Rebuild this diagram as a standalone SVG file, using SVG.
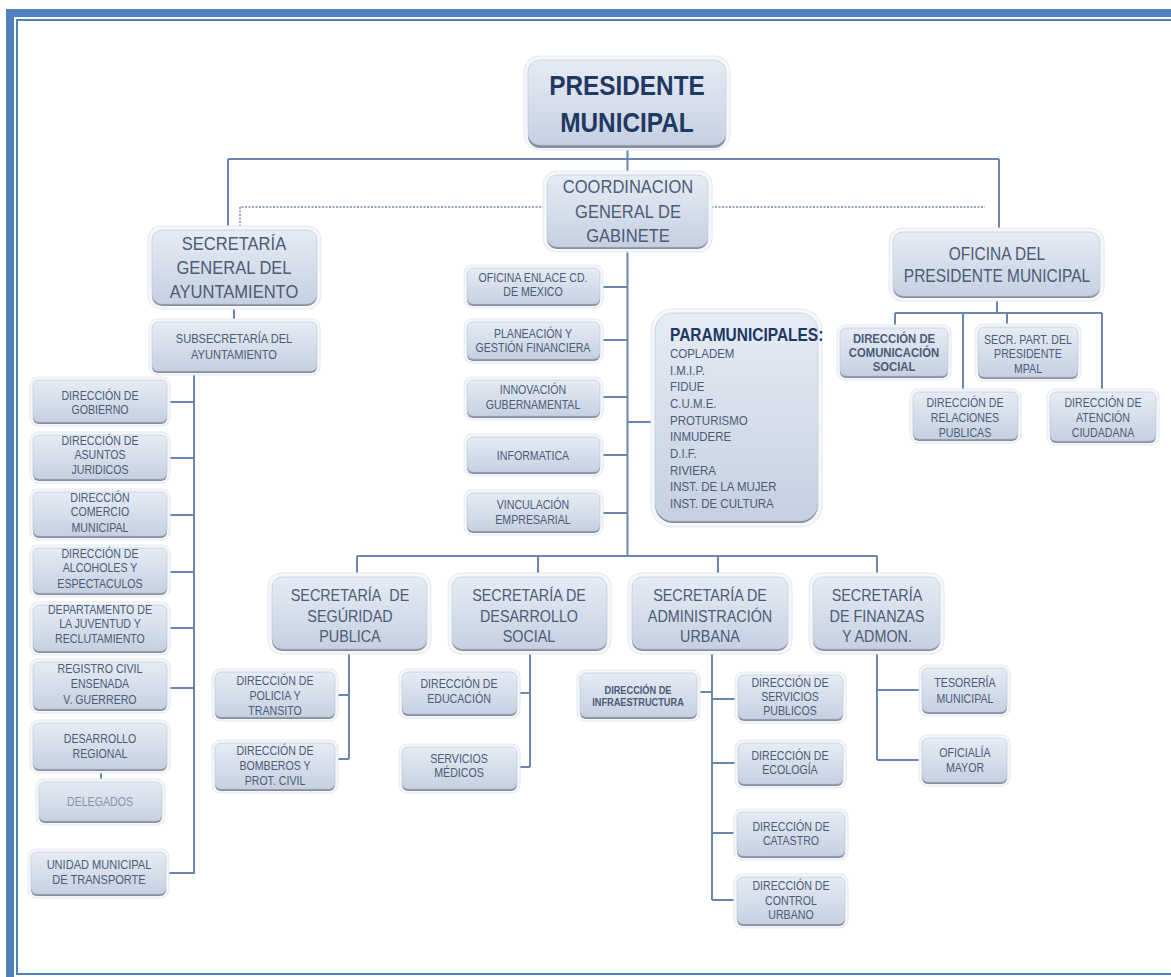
<svg xmlns="http://www.w3.org/2000/svg" width="1171" height="977" viewBox="0 0 1171 977">
<defs>
<linearGradient id="gr" x1="0" y1="0" x2="0" y2="1">
<stop offset="0" stop-color="#E6ECF5"/>
<stop offset="1" stop-color="#C6D0E1"/>
</linearGradient>
<style>
.glow{fill:#F5F7FA;stroke:#E4E8EE;stroke-width:1}
.sh{fill:#858FA0}
.bx{fill:url(#gr);stroke:#B9C3D3;stroke-width:0.6}
text{font-family:"Liberation Sans",Arial,sans-serif;text-anchor:middle;fill:#4C5B76}
.big{font-size:19px}
.mid{font-size:16.5px}
.sm{font-size:12.2px}
.smb{font-size:13px;font-weight:bold}
.pl{text-anchor:start;font-size:13.2px}
.ln{fill:none;stroke:#6A86B0;stroke-width:2}
.ds{fill:none;stroke:#9AA6B8;stroke-width:2;stroke-dasharray:2 1.5}
.frm{fill:none;stroke:#4F81BD}
</style>
</defs>
<rect width="1171" height="977" fill="#FFFFFF"/>
<rect class="frm" x="10" y="13" width="1200" height="1000" stroke-width="8"/>
<rect class="frm" x="17" y="20" width="1200" height="954" stroke-width="2"/>

<g id="connectors">
<path class="ln" d="M627.5 146V556"/>
<path class="ln" d="M228 159H999M228 159V230M999 159V232"/>
<path class="ds" d="M240 230V207H547M708 207H985"/>
<path class="ln" d="M234 305V322"/>
<path class="ln" d="M194 372V873H166M167 402H194M167 458H194M167 515H194M167 572H194M167 628H194M167 688H194"/>
<path class="ln" d="M101 770V782"/>
<path class="ln" d="M600 287H628M600 340H628M600 397H628M600 455H628M600 513H628M628 422H655"/>
<path class="ln" d="M357 556H877M357 556V577M538 556V577M718 556V577M877 556V577"/>
<path class="ln" d="M349 650V759M335 695H349M335 759H349"/>
<path class="ln" d="M530 650V767M517 693H530M517 767H530"/>
<path class="ln" d="M712 650V900M697 692H712M712 699H738M712 763H738M712 833H737M712 900H737"/>
<path class="ln" d="M877 650V760M877 690H922M877 760H922"/>
<path class="ln" d="M997 297V313M895 313H1102M895 313V328M963 313V392M1007 313V327M1102 313V392"/>
</g>

<g id="n-presidente">
<rect class="glow" x="524" y="56" width="206" height="94" rx="15"/>
<rect class="sh" x="528" y="62" width="198" height="86" rx="12"/>
<rect class="bx" x="528" y="60" width="198" height="85" rx="12"/>
<g transform="matrix(0.87 0 0 1 81.51 0)">
<text x="627" y="95" style="font-size:28px;font-weight:bold;fill:#1F3864">PRESIDENTE</text>
<text x="627" y="132" style="font-size:28px;font-weight:bold;fill:#1F3864">MUNICIPAL</text>
</g>
</g>

<g id="n-coordinacion">
<rect class="glow" x="543" y="171" width="169" height="81" rx="13"/>
<rect class="sh" x="547" y="177" width="161" height="72" rx="10"/>
<rect class="bx" x="547" y="175" width="161" height="72" rx="10"/>
<g transform="matrix(0.87 0 0 1 81.64 0)">
<text class="big" x="628" y="193">COORDINACION</text>
<text class="big" x="628" y="218">GENERAL DE</text>
<text class="big" x="628" y="242">GABINETE</text>
</g>
</g>

<g id="n-secgeneral">
<rect class="glow" x="148" y="226" width="173" height="83" rx="13"/>
<rect class="sh" x="152" y="232" width="165" height="74" rx="10"/>
<rect class="bx" x="152" y="230" width="165" height="74" rx="10"/>
<g transform="matrix(0.87 0 0 1 30.42 0)">
<text class="big" x="234" y="250">SECRETARÍA</text>
<text class="big" x="234" y="274">GENERAL DEL</text>
<text class="big" x="234" y="298">AYUNTAMIENTO</text>
</g>
</g>

<g id="n-oficina">
<rect class="glow" x="889" y="228" width="215" height="73" rx="13"/>
<rect class="sh" x="893" y="234" width="207" height="64" rx="10"/>
<rect class="bx" x="893" y="232" width="207" height="64" rx="10"/>
<g transform="matrix(0.87 0 0 1 129.61 0)">
<text x="997" y="260" style="font-size:17.8px">OFICINA DEL</text>
<text x="997" y="282" style="font-size:17.8px">PRESIDENTE MUNICIPAL</text>
</g>
</g>

<g id="n-subsecretaria">
<rect class="glow" x="149" y="319" width="171" height="56" rx="8"/>
<rect class="sh" x="152" y="324" width="165" height="49" rx="6"/>
<rect class="bx" x="152" y="322" width="165" height="49" rx="6"/>
<g transform="matrix(0.87 0 0 1 30.42 0)">
<text class="sm" x="234" y="343" style="font-size:12.7px">SUBSECRETARÍA DEL</text>
<text class="sm" x="234" y="359" style="font-size:12.7px">AYUNTAMIENTO</text>
</g>
</g>

<g id="n-gobierno">
<rect class="glow" x="30" y="377" width="140" height="49" rx="8"/>
<rect class="sh" x="33" y="382" width="134" height="42" rx="6"/>
<rect class="bx" x="33" y="380" width="134" height="42" rx="6"/>
<g transform="matrix(0.87 0 0 1 13 0)">
<text class="sm" x="100" y="400">DIRECCIÓN DE</text>
<text class="sm" x="100" y="414">GOBIERNO</text>
</g>
</g>

<g id="n-juridicos">
<rect class="glow" x="30" y="432" width="140" height="51" rx="8"/>
<rect class="sh" x="33" y="437" width="134" height="44" rx="6"/>
<rect class="bx" x="33" y="435" width="134" height="44" rx="6"/>
<g transform="matrix(0.87 0 0 1 13 0)">
<text class="sm" x="100" y="445">DIRECCIÓN DE</text>
<text class="sm" x="100" y="459">ASUNTOS</text>
<text class="sm" x="100" y="474">JURIDICOS</text>
</g>
</g>

<g id="n-comercio">
<rect class="glow" x="30" y="489" width="140" height="51" rx="8"/>
<rect class="sh" x="33" y="494" width="134" height="44" rx="6"/>
<rect class="bx" x="33" y="492" width="134" height="44" rx="6"/>
<g transform="matrix(0.87 0 0 1 13 0)">
<text class="sm" x="100" y="502">DIRECCIÓN</text>
<text class="sm" x="100" y="516">COMERCIO</text>
<text class="sm" x="100" y="532">MUNICIPAL</text>
</g>
</g>

<g id="n-alcoholes">
<rect class="glow" x="30" y="545" width="140" height="52" rx="8"/>
<rect class="sh" x="33" y="550" width="134" height="45" rx="6"/>
<rect class="bx" x="33" y="548" width="134" height="45" rx="6"/>
<g transform="matrix(0.87 0 0 1 13 0)">
<text class="sm" x="100" y="558">DIRECCIÓN DE</text>
<text class="sm" x="100" y="572">ALCOHOLES Y</text>
<text class="sm" x="100" y="588">ESPECTACULOS</text>
</g>
</g>

<g id="n-juventud">
<rect class="glow" x="30" y="602" width="140" height="53" rx="8"/>
<rect class="sh" x="33" y="607" width="134" height="46" rx="6"/>
<rect class="bx" x="33" y="605" width="134" height="46" rx="6"/>
<g transform="matrix(0.87 0 0 1 13 0)">
<text class="sm" x="100" y="614">DEPARTAMENTO DE</text>
<text class="sm" x="100" y="628">LA JUVENTUD Y</text>
<text class="sm" x="100" y="643">RECLUTAMIENTO</text>
</g>
</g>

<g id="n-registro">
<rect class="glow" x="30" y="659" width="140" height="54" rx="8"/>
<rect class="sh" x="33" y="664" width="134" height="47" rx="6"/>
<rect class="bx" x="33" y="662" width="134" height="47" rx="6"/>
<g transform="matrix(0.87 0 0 1 13 0)">
<text class="sm" x="100" y="673">REGISTRO CIVIL</text>
<text class="sm" x="100" y="688">ENSENADA</text>
<text class="sm" x="100" y="704">V. GUERRERO</text>
</g>
</g>

<g id="n-desarrollo-regional">
<rect class="glow" x="30" y="720" width="140" height="53" rx="8"/>
<rect class="sh" x="33" y="725" width="134" height="46" rx="6"/>
<rect class="bx" x="33" y="723" width="134" height="46" rx="6"/>
<g transform="matrix(0.87 0 0 1 13 0)">
<text class="sm" x="100" y="743">DESARROLLO</text>
<text class="sm" x="100" y="758">REGIONAL</text>
</g>
</g>

<g id="n-delegados">
<rect class="glow" x="36" y="779" width="129" height="46" rx="8"/>
<rect class="sh" x="39" y="784" width="123" height="39" rx="6"/>
<rect class="bx" x="39" y="782" width="123" height="39" rx="6"/>
<g transform="matrix(0.87 0 0 1 13 0)">
<text class="sm" x="100" y="806" style="fill:#8A94A6">DELEGADOS</text>
</g>
</g>

<g id="n-transporte">
<rect class="glow" x="28" y="849" width="141" height="49" rx="8"/>
<rect class="sh" x="31" y="854" width="135" height="42" rx="6"/>
<rect class="bx" x="31" y="852" width="135" height="42" rx="6"/>
<g transform="matrix(0.87 0 0 1 12.87 0)">
<text class="sm" x="99" y="869" style="font-size:12.7px">UNIDAD MUNICIPAL</text>
<text class="sm" x="99" y="884" style="font-size:12.7px">DE TRANSPORTE</text>
</g>
</g>

<g id="n-enlace">
<rect class="glow" x="464" y="265" width="139" height="43" rx="8"/>
<rect class="sh" x="467" y="270" width="133" height="36" rx="6"/>
<rect class="bx" x="467" y="268" width="133" height="36" rx="6"/>
<g transform="matrix(0.87 0 0 1 69.29 0)">
<text class="sm" x="533" y="282">OFICINA ENLACE CD.</text>
<text class="sm" x="533" y="296">DE MEXICO</text>
</g>
</g>

<g id="n-planeacion">
<rect class="glow" x="464" y="319" width="139" height="44" rx="8"/>
<rect class="sh" x="467" y="324" width="133" height="37" rx="6"/>
<rect class="bx" x="467" y="322" width="133" height="37" rx="6"/>
<g transform="matrix(0.87 0 0 1 69.29 0)">
<text class="sm" x="533" y="338">PLANEACIÓN Y</text>
<text class="sm" x="533" y="352">GESTIÓN FINANCIERA</text>
</g>
</g>

<g id="n-innovacion">
<rect class="glow" x="464" y="377" width="139" height="43" rx="8"/>
<rect class="sh" x="467" y="382" width="133" height="36" rx="6"/>
<rect class="bx" x="467" y="380" width="133" height="36" rx="6"/>
<g transform="matrix(0.87 0 0 1 69.29 0)">
<text class="sm" x="533" y="394">INNOVACIÓN</text>
<text class="sm" x="533" y="409">GUBERNAMENTAL</text>
</g>
</g>

<g id="n-informatica">
<rect class="glow" x="464" y="434" width="139" height="42" rx="8"/>
<rect class="sh" x="467" y="439" width="133" height="35" rx="6"/>
<rect class="bx" x="467" y="437" width="133" height="35" rx="6"/>
<g transform="matrix(0.87 0 0 1 69.29 0)">
<text class="sm" x="533" y="460">INFORMATICA</text>
</g>
</g>

<g id="n-vinculacion">
<rect class="glow" x="464" y="490" width="139" height="45" rx="8"/>
<rect class="sh" x="467" y="495" width="133" height="38" rx="6"/>
<rect class="bx" x="467" y="493" width="133" height="38" rx="6"/>
<g transform="matrix(0.87 0 0 1 69.29 0)">
<text class="sm" x="533" y="509">VINCULACIÓN</text>
<text class="sm" x="533" y="524">EMPRESARIAL</text>
</g>
</g>

<g id="n-paramunicipales">
<rect class="glow" x="651" y="309" width="171" height="218" rx="21"/>
<rect class="sh" x="655" y="315" width="163" height="208" rx="18"/>
<rect class="bx" x="655" y="313" width="163" height="208" rx="18"/>
<g transform="matrix(0.87 0 0 1 87.1 0)">
<text x="670" y="341" style="text-anchor:start;font-size:17.8px;font-weight:bold;fill:#1F3864">PARAMUNICIPALES:</text>
<text class="pl" x="670" y="358">COPLADEM</text>
<text class="pl" x="670" y="375">I.M.I.P.</text>
<text class="pl" x="670" y="391">FIDUE</text>
<text class="pl" x="670" y="408">C.U.M.E.</text>
<text class="pl" x="670" y="425">PROTURISMO</text>
<text class="pl" x="670" y="441">INMUDERE</text>
<text class="pl" x="670" y="458">D.I.F.</text>
<text class="pl" x="670" y="475">RIVIERA</text>
<text class="pl" x="670" y="491">INST. DE LA MUJER</text>
<text class="pl" x="670" y="508">INST. DE CULTURA</text>
</g>
</g>

<g id="n-comunicacion">
<rect class="glow" x="837" y="325" width="114" height="55" rx="8"/>
<rect class="sh" x="840" y="330" width="108" height="48" rx="6"/>
<rect class="bx" x="840" y="328" width="108" height="48" rx="6"/>
<g transform="matrix(0.87 0 0 1 116.22 0)">
<text class="smb" x="894" y="343">DIRECCIÓN DE</text>
<text class="smb" x="894" y="357">COMUNICACIÓN</text>
<text class="smb" x="894" y="371">SOCIAL</text>
</g>
</g>

<g id="n-secrpart">
<rect class="glow" x="975" y="324" width="106" height="57" rx="8"/>
<rect class="sh" x="978" y="329" width="100" height="50" rx="6"/>
<rect class="bx" x="978" y="327" width="100" height="50" rx="6"/>
<g transform="matrix(0.87 0 0 1 133.64 0)">
<text class="sm" x="1028" y="344">SECR. PART. DEL</text>
<text class="sm" x="1028" y="358">PRESIDENTE</text>
<text class="sm" x="1028" y="373">MPAL</text>
</g>
</g>

<g id="n-relaciones">
<rect class="glow" x="910" y="389" width="111" height="54" rx="8"/>
<rect class="sh" x="913" y="394" width="105" height="47" rx="6"/>
<rect class="bx" x="913" y="392" width="105" height="47" rx="6"/>
<g transform="matrix(0.87 0 0 1 125.45 0)">
<text class="sm" x="965" y="407">DIRECCIÓN DE</text>
<text class="sm" x="965" y="422">RELACIONES</text>
<text class="sm" x="965" y="437">PUBLICAS</text>
</g>
</g>

<g id="n-atencion">
<rect class="glow" x="1047" y="389" width="112" height="56" rx="8"/>
<rect class="sh" x="1050" y="394" width="106" height="49" rx="6"/>
<rect class="bx" x="1050" y="392" width="106" height="49" rx="6"/>
<g transform="matrix(0.87 0 0 1 143.39 0)">
<text class="sm" x="1103" y="407">DIRECCIÓN DE</text>
<text class="sm" x="1103" y="422">ATENCIÓN</text>
<text class="sm" x="1103" y="437">CIUDADANA</text>
</g>
</g>

<g id="n-seguridad">
<rect class="glow" x="268" y="573" width="163" height="81" rx="13"/>
<rect class="sh" x="272" y="579" width="155" height="72" rx="10"/>
<rect class="bx" x="272" y="577" width="155" height="72" rx="10"/>
<g transform="matrix(0.87 0 0 1 45.5 0)">
<text class="mid" x="350" y="601">SECRETARÍA&#160; DE</text>
<text class="mid" x="350" y="622">SEGÚRIDAD</text>
<text class="mid" x="350" y="642">PUBLICA</text>
</g>
</g>

<g id="n-desarrollo-social">
<rect class="glow" x="448" y="573" width="163" height="81" rx="13"/>
<rect class="sh" x="452" y="579" width="155" height="72" rx="10"/>
<rect class="bx" x="452" y="577" width="155" height="72" rx="10"/>
<g transform="matrix(0.87 0 0 1 68.77 0)">
<text class="mid" x="529" y="601">SECRETARÍA DE</text>
<text class="mid" x="529" y="622">DESARROLLO</text>
<text class="mid" x="529" y="642">SOCIAL</text>
</g>
</g>

<g id="n-admin-urbana">
<rect class="glow" x="628" y="573" width="164" height="81" rx="13"/>
<rect class="sh" x="632" y="579" width="156" height="72" rx="10"/>
<rect class="bx" x="632" y="577" width="156" height="72" rx="10"/>
<g transform="matrix(0.87 0 0 1 92.3 0)">
<text class="mid" x="710" y="601">SECRETARÍA DE</text>
<text class="mid" x="710" y="622">ADMINISTRACIÓN</text>
<text class="mid" x="710" y="642">URBANA</text>
</g>
</g>

<g id="n-finanzas">
<rect class="glow" x="809" y="573" width="135" height="81" rx="13"/>
<rect class="sh" x="813" y="579" width="127" height="72" rx="10"/>
<rect class="bx" x="813" y="577" width="127" height="72" rx="10"/>
<g transform="matrix(0.87 0 0 1 114.01 0)">
<text class="mid" x="877" y="601">SECRETARÍA</text>
<text class="mid" x="877" y="622">DE FINANZAS</text>
<text class="mid" x="877" y="642">Y ADMON.</text>
</g>
</g>

<g id="n-policia">
<rect class="glow" x="212" y="669" width="126" height="52" rx="8"/>
<rect class="sh" x="215" y="674" width="120" height="45" rx="6"/>
<rect class="bx" x="215" y="672" width="120" height="45" rx="6"/>
<g transform="matrix(0.87 0 0 1 35.75 0)">
<text class="sm" x="275" y="685">DIRECCIÓN DE</text>
<text class="sm" x="275" y="700">POLICIA Y</text>
<text class="sm" x="275" y="715">TRANSITO</text>
</g>
</g>

<g id="n-bomberos">
<rect class="glow" x="212" y="740" width="126" height="53" rx="8"/>
<rect class="sh" x="215" y="745" width="120" height="46" rx="6"/>
<rect class="bx" x="215" y="743" width="120" height="46" rx="6"/>
<g transform="matrix(0.87 0 0 1 35.75 0)">
<text class="sm" x="275" y="755">DIRECCIÓN DE</text>
<text class="sm" x="275" y="770">BOMBEROS Y</text>
<text class="sm" x="275" y="785">PROT. CIVIL</text>
</g>
</g>

<g id="n-educacion">
<rect class="glow" x="399" y="669" width="121" height="49" rx="8"/>
<rect class="sh" x="402" y="674" width="115" height="42" rx="6"/>
<rect class="bx" x="402" y="672" width="115" height="42" rx="6"/>
<g transform="matrix(0.87 0 0 1 59.67 0)">
<text class="sm" x="459" y="688">DIRECCIÓN DE</text>
<text class="sm" x="459" y="703">EDUCACIÓN</text>
</g>
</g>

<g id="n-medicos">
<rect class="glow" x="399" y="744" width="121" height="49" rx="8"/>
<rect class="sh" x="402" y="749" width="115" height="42" rx="6"/>
<rect class="bx" x="402" y="747" width="115" height="42" rx="6"/>
<g transform="matrix(0.87 0 0 1 59.67 0)">
<text class="sm" x="459" y="763">SERVICIOS</text>
<text class="sm" x="459" y="777">MÉDICOS</text>
</g>
</g>

<g id="n-infraestructura">
<rect class="glow" x="577" y="670" width="123" height="51" rx="8"/>
<rect class="sh" x="580" y="675" width="117" height="44" rx="6"/>
<rect class="bx" x="580" y="673" width="117" height="44" rx="6"/>
<g transform="matrix(0.87 0 0 1 82.94 0)">
<text class="smb" x="638" y="694" style="font-size:10.6px">DIRECCIÓN DE</text>
<text class="smb" x="638" y="706" style="font-size:10.6px">INFRAESTRUCTURA</text>
</g>
</g>

<g id="n-servicios">
<rect class="glow" x="735" y="672" width="111" height="51" rx="8"/>
<rect class="sh" x="738" y="677" width="105" height="44" rx="6"/>
<rect class="bx" x="738" y="675" width="105" height="44" rx="6"/>
<g transform="matrix(0.87 0 0 1 102.7 0)">
<text class="sm" x="790" y="687">DIRECCIÓN DE</text>
<text class="sm" x="790" y="701">SERVICIOS</text>
<text class="sm" x="790" y="715">PUBLICOS</text>
</g>
</g>

<g id="n-ecologia">
<rect class="glow" x="735" y="740" width="111" height="48" rx="8"/>
<rect class="sh" x="738" y="745" width="105" height="41" rx="6"/>
<rect class="bx" x="738" y="743" width="105" height="41" rx="6"/>
<g transform="matrix(0.87 0 0 1 102.7 0)">
<text class="sm" x="790" y="760">DIRECCIÓN DE</text>
<text class="sm" x="790" y="774">ECOLOGÍA</text>
</g>
</g>

<g id="n-catastro">
<rect class="glow" x="734" y="809" width="114" height="51" rx="8"/>
<rect class="sh" x="737" y="814" width="108" height="44" rx="6"/>
<rect class="bx" x="737" y="812" width="108" height="44" rx="6"/>
<g transform="matrix(0.87 0 0 1 102.83 0)">
<text class="sm" x="791" y="831">DIRECCIÓN DE</text>
<text class="sm" x="791" y="845">CATASTRO</text>
</g>
</g>

<g id="n-control">
<rect class="glow" x="734" y="874" width="114" height="54" rx="8"/>
<rect class="sh" x="737" y="879" width="108" height="47" rx="6"/>
<rect class="bx" x="737" y="877" width="108" height="47" rx="6"/>
<g transform="matrix(0.87 0 0 1 102.83 0)">
<text class="sm" x="791" y="890">DIRECCIÓN DE</text>
<text class="sm" x="791" y="905">CONTROL</text>
<text class="sm" x="791" y="919">URBANO</text>
</g>
</g>

<g id="n-tesoreria">
<rect class="glow" x="919" y="665" width="91" height="51" rx="8"/>
<rect class="sh" x="922" y="670" width="85" height="44" rx="6"/>
<rect class="bx" x="922" y="668" width="85" height="44" rx="6"/>
<g transform="matrix(0.87 0 0 1 125.45 0)">
<text class="sm" x="965" y="687">TESORERÍA</text>
<text class="sm" x="965" y="703">MUNICIPAL</text>
</g>
</g>

<g id="n-oficialia">
<rect class="glow" x="919" y="735" width="91" height="51" rx="8"/>
<rect class="sh" x="922" y="740" width="85" height="44" rx="6"/>
<rect class="bx" x="922" y="738" width="85" height="44" rx="6"/>
<g transform="matrix(0.87 0 0 1 125.45 0)">
<text class="sm" x="965" y="757">OFICIALÍA</text>
<text class="sm" x="965" y="772">MAYOR</text>
</g>
</g>
</svg>
